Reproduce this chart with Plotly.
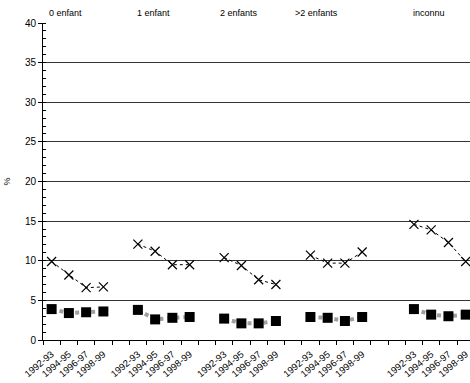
import plotly.graph_objects as go

# ---- data ----
groups = ["0 enfant", "1 enfant", "2 enfants", ">2 enfants", "inconnu"]
periods = ["1992-93", "1994-95", "1996-97", "1998-99"]
cross_vals = [
    [9.9, 8.2, 6.6, 6.7],
    [12.1, 11.2, 9.5, 9.5],
    [10.4, 9.4, 7.6, 7.0],
    [10.7, 9.7, 9.7, 11.1],
    [14.6, 13.9, 12.3, 9.9],
]
square_vals = [
    [3.9, 3.4, 3.5, 3.6],
    [3.8, 2.6, 2.8, 2.9],
    [2.7, 2.1, 2.1, 2.4],
    [2.9, 2.8, 2.4, 2.9],
    [3.9, 3.2, 3.0, 3.2],
]
# blank slots inserted before each group (layout of category axis)
gaps_before = [0, 1, 1, 1, 2]

# ---- build category positions ----
xs, cy, sy, ticktext, tickvals = [], [], [], [], []
pos = 0
for g in range(len(groups)):
    for _ in range(gaps_before[g]):
        xs.append(pos); cy.append(None); sy.append(None)
        pos += 1
    for i, p in enumerate(periods):
        xs.append(pos)
        cy.append(cross_vals[g][i])
        sy.append(square_vals[g][i])
        tickvals.append(pos)
        ticktext.append(p)
        pos += 1
ncat = pos

font = "Liberation Sans, Arial, sans-serif"
fig = go.Figure()
fig.add_trace(go.Scatter(
    x=xs, y=sy, mode="lines+markers", connectgaps=False, cliponaxis=False,
    line=dict(color="#a0a0a0", width=4, dash="dot"),
    marker=dict(symbol="square", size=10, color="black"),
    showlegend=False, hoverinfo="skip"))
fig.add_trace(go.Scatter(
    x=xs, y=cy, mode="lines+markers", connectgaps=False, cliponaxis=False,
    line=dict(color="black", width=1, dash="dot"),
    marker=dict(symbol="x-thin", size=9, line=dict(color="black", width=1.2)),
    showlegend=False, hoverinfo="skip"))

header_x = [0.78, 5.88, 10.86, 15.35, 21.9]
for name, hx in zip(groups, header_x):
    fig.add_annotation(x=hx, y=1.032, xref="x", yref="paper", text=name,
                       showarrow=False, font=dict(size=9, color="black", family=font),
                       xanchor="center", yanchor="middle")

xrange = [-0.5, ncat - 0.75]
fig.update_layout(
    width=470, height=383,
    margin=dict(l=43, r=0, t=23, b=43, autoexpand=False),
    paper_bgcolor="white", plot_bgcolor="white",
    font=dict(family=font, size=9, color="black"),
    xaxis=dict(range=xrange, autorange=False, automargin=False,
               tickmode="array", tickvals=tickvals,
               ticktext=ticktext, tickangle=-40, ticks="", showgrid=False,
               zeroline=False, showline=True, linecolor="black", linewidth=1,
               tickfont=dict(size=9.5, family=font, color="black"),
               ticklabeloverflow="allow", ticklabelstandoff=4,
               minor=dict(tickmode="linear", tick0=-0.5, dtick=1, ticks="outside",
                          ticklen=4, tickcolor="black", showgrid=False)),
    yaxis=dict(range=[0, 40], autorange=False, automargin=False,
               tickmode="linear", tick0=0, dtick=5,
               ticks="outside", ticklen=4, tickcolor="black",
               showgrid=True, gridcolor="#333333", gridwidth=1,
               zeroline=False, showline=True, linecolor="black", linewidth=1,
               tickfont=dict(size=10, family=font, color="black"),
               minor=dict(dtick=1, ticks="inside", ticklen=3, tickcolor="black",
                          showgrid=False),
               title=dict(text="%", font=dict(size=9, family=font), standoff=12)),
)
fig.write_html("out.html", config={"displayModeBar": False},
               post_script="document.body.style.margin='0';document.body.style.overflow='hidden';")
